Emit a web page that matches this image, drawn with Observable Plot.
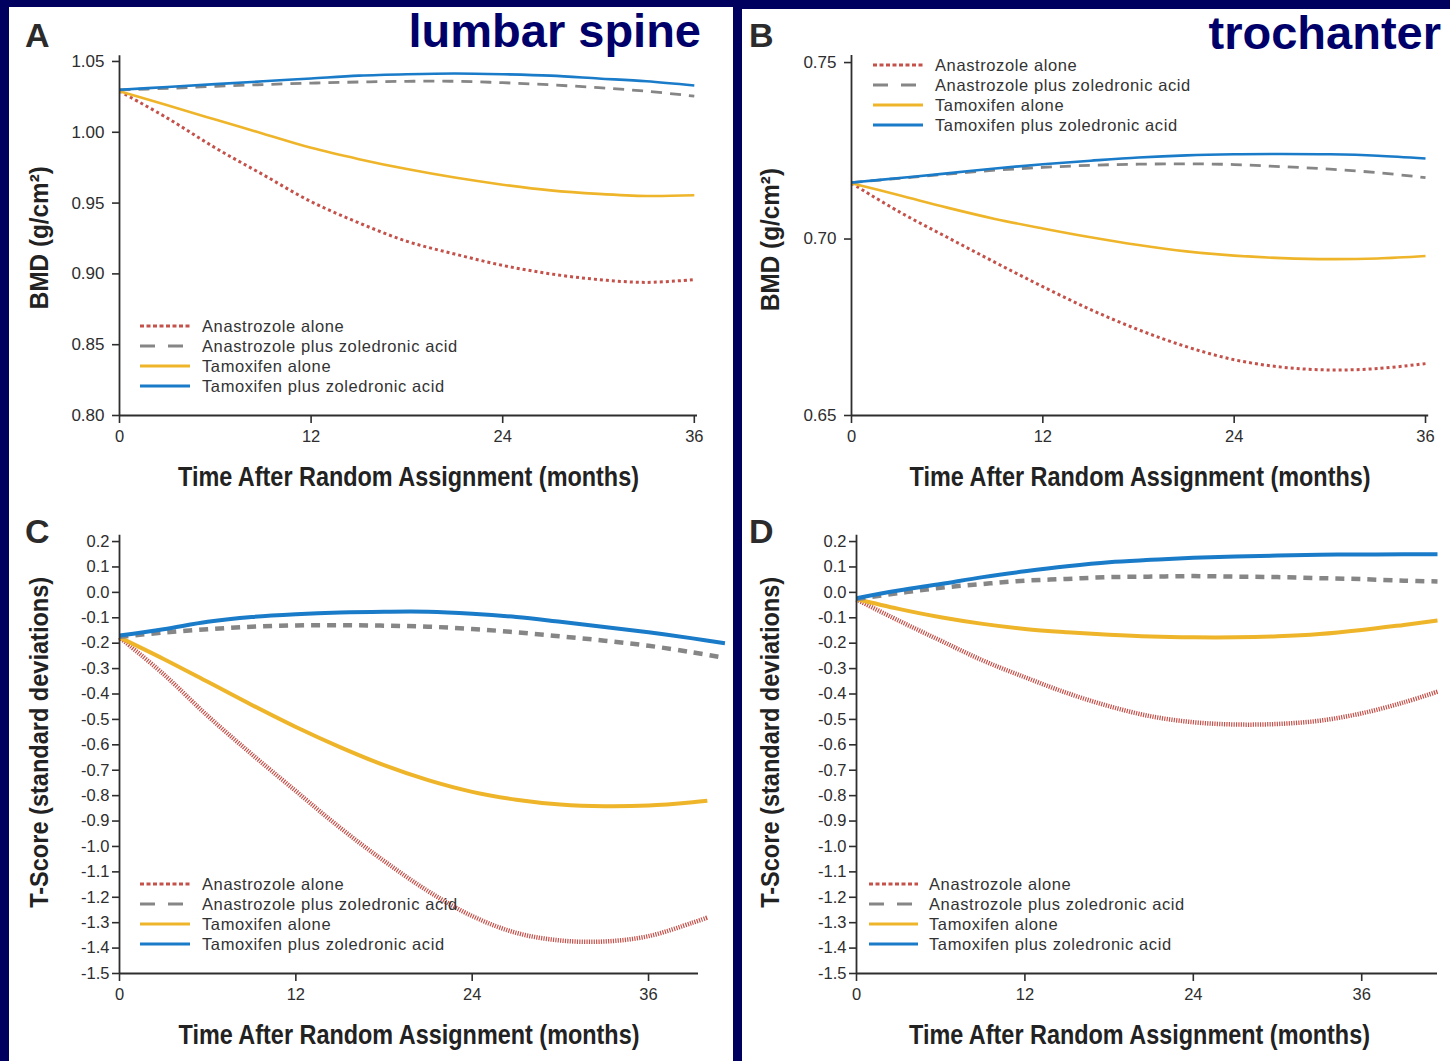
<!DOCTYPE html>
<html>
<head>
<meta charset="utf-8">
<script src="https://cdn.jsdelivr.net/npm/d3@7"></script>
<script src="https://cdn.jsdelivr.net/npm/@observablehq/plot@0.6"></script>
<style>
html, body { margin: 0; padding: 0; background: #00005e; }
#page { position: relative; width: 1450px; height: 1061px; overflow: hidden; background: #00005e; font-family: "Liberation Sans", Arial, sans-serif; }
.panel { position: absolute; background: #ffffff; }
.plot { position: absolute; }
#overlay { position: absolute; left: 0; top: 0; pointer-events: none; }
</style>
</head>
<body>
<div id="page">
  <div class="panel" style="left:9px; top:7px; width:724px; height:1054px;"></div>
  <div class="panel" style="left:742px; top:9px; width:708px; height:1052px;"></div>
</div>
<script>
// ---------------- DATA ----------------
const trtNames = ["Anastrozole alone", "Anastrozole plus zoledronic acid", "Tamoxifen alone", "Tamoxifen plus zoledronic acid"];
const trtColors = ["#c4524b", "#868686", "#efb52a", "#1a7bc9"];

const panelLetters = ["A", "B", "C", "D"];
const siteTitles = ["lumbar spine", "trochanter"];
const xTitle = "Time After Random Assignment (months)";
const yTitleBMD = "BMD (g/cm²)";
const yTitleT = "T-Score (standard deviations)";

const xTicksMonths = [0, 12, 24, 36];
const yTicksSpineBMD = [0.80, 0.85, 0.90, 0.95, 1.00, 1.05];
const yTicksTrochBMD = [0.65, 0.70, 0.75];
const yTicksTscore = [-1.5, -1.4, -1.3, -1.2, -1.1, -1.0, -0.9, -0.8, -0.7, -0.6, -0.5, -0.4, -0.3, -0.2, -0.1, 0.0, 0.1, 0.2];

// Panel A: lumbar spine BMD (g/cm2)
const monthsBMD = [0, 3, 6, 9, 12, 15, 18, 21, 24, 27, 30, 33, 36];
const spineBMD_anaAlone = [1.029, 1.010, 0.989, 0.970, 0.951, 0.936, 0.923, 0.914, 0.906, 0.900, 0.896, 0.894, 0.896];
const spineBMD_anaZol   = [1.030, 1.031, 1.0325, 1.0337, 1.0347, 1.0355, 1.036, 1.036, 1.035, 1.0335, 1.0315, 1.029, 1.0255];
const spineBMD_tamAlone = [1.029, 1.019, 1.009, 0.999, 0.989, 0.981, 0.974, 0.968, 0.963, 0.959, 0.9565, 0.955, 0.9555];
const spineBMD_tamZol   = [1.030, 1.032, 1.034, 1.036, 1.038, 1.040, 1.041, 1.0415, 1.041, 1.040, 1.038, 1.036, 1.033];

// Panel B: trochanter BMD (g/cm2)
const trochBMD_anaAlone = [0.7158, 0.7077, 0.7005, 0.6934, 0.6865, 0.6800, 0.6743, 0.6695, 0.6658, 0.6637, 0.6629, 0.6633, 0.6647];
const trochBMD_anaZol   = [0.7160, 0.7172, 0.7184, 0.7195, 0.7203, 0.7209, 0.7212, 0.7213, 0.7211, 0.7205, 0.7198, 0.7188, 0.7174];
const trochBMD_tamAlone = [0.7158, 0.7124, 0.7089, 0.7057, 0.7030, 0.7005, 0.6983, 0.6965, 0.6953, 0.6946, 0.6943, 0.6945, 0.6952];
const trochBMD_tamZol   = [0.7160, 0.7173, 0.7186, 0.7200, 0.7212, 0.7222, 0.7231, 0.7237, 0.7240, 0.7241, 0.7240, 0.7236, 0.7228];

// Panel C: lumbar spine T-score
const monthsSpineT_long  = [0, 3, 6, 9, 12, 15, 18, 21, 24, 27, 30, 33, 36, 39, 41.2];
const monthsSpineT_short = [0, 3, 6, 9, 12, 15, 18, 21, 24, 27, 30, 33, 36, 39, 40];
const spineT_anaAlone = [-0.177, -0.322, -0.486, -0.637, -0.782, -0.926, -1.057, -1.176, -1.274, -1.340, -1.370, -1.374, -1.353, -1.300, -1.280];
const spineT_anaZol   = [-0.175, -0.158, -0.145, -0.135, -0.130, -0.129, -0.131, -0.135, -0.144, -0.157, -0.173, -0.190, -0.210, -0.236, -0.258];
const spineT_tamAlone = [-0.177, -0.262, -0.352, -0.443, -0.530, -0.609, -0.680, -0.739, -0.785, -0.816, -0.835, -0.842, -0.839, -0.826, -0.820];
const spineT_tamZol   = [-0.170, -0.145, -0.116, -0.097, -0.086, -0.079, -0.076, -0.076, -0.084, -0.097, -0.116, -0.136, -0.157, -0.181, -0.200];

// Panel D: trochanter T-score
const monthsTrochT = [0, 3, 6, 9, 12, 15, 18, 21, 24, 27, 30, 33, 36, 39, 41.4];
const trochT_anaAlone = [-0.028, -0.111, -0.190, -0.268, -0.334, -0.396, -0.448, -0.488, -0.511, -0.520, -0.518, -0.505, -0.476, -0.433, -0.391];
const trochT_anaZol   = [-0.026, -0.003, 0.018, 0.033, 0.046, 0.053, 0.060, 0.062, 0.064, 0.062, 0.060, 0.056, 0.052, 0.046, 0.043];
const trochT_tamAlone = [-0.026, -0.065, -0.098, -0.124, -0.144, -0.157, -0.167, -0.174, -0.177, -0.177, -0.173, -0.164, -0.148, -0.128, -0.111];
const trochT_tamZol   = [-0.023, 0.007, 0.033, 0.060, 0.083, 0.103, 0.119, 0.128, 0.136, 0.141, 0.145, 0.148, 0.149, 0.150, 0.150];

// ---------------- STYLES ----------------
const thinStyle = { widths: [3, 2.8, 2.6, 2.6], dashes: ["3,3", "11,8", null, null] };
const thickStyle = { widths: [4.5, 4.5, 4, 4], dashes: ["1.2,1.2", "9,7", null, null] };

const FONT = "'Liberation Sans', Arial, Helvetica, sans-serif";

const panels = [
  {
    left: 9, top: 8, width: 722, height: 500,
    marginLeft: 110, marginRight: 34, marginTop: 47.3, marginBottom: 93,
    xDomain: [0, 36.2], yDomain: [0.80, 1.054], yTicks: yTicksSpineBMD, yFmt: d => d.toFixed(2),
    yTickSize: 7, yTickPad: 8, tickFont: 17,
    series: [
      { months: monthsBMD, values: spineBMD_anaAlone },
      { months: monthsBMD, values: spineBMD_anaZol },
      { months: monthsBMD, values: spineBMD_tamAlone },
      { months: monthsBMD, values: spineBMD_tamZol }
    ],
    style: thinStyle,
    yTitle: yTitleBMD, yTitleLen: 143, yTitleDx: -80, yTitleDy: 2,
    xTitleDx: 0, xTitleDy: 62
  },
  {
    left: 742, top: 8, width: 708, height: 500,
    marginLeft: 109, marginRight: 21.8, marginTop: 47, marginBottom: 93,
    xDomain: [0, 36.2], yDomain: [0.65, 0.752], yTicks: yTicksTrochBMD, yFmt: d => d.toFixed(2),
    yTickSize: 7, yTickPad: 8, tickFont: 17,
    series: [
      { months: monthsBMD, values: trochBMD_anaAlone },
      { months: monthsBMD, values: trochBMD_anaZol },
      { months: monthsBMD, values: trochBMD_tamAlone },
      { months: monthsBMD, values: trochBMD_tamZol }
    ],
    style: thinStyle,
    yTitle: yTitleBMD, yTitleLen: 143, yTitleDx: -81, yTitleDy: 4,
    xTitleDx: 0, xTitleDy: 62
  },
  {
    left: 9, top: 508, width: 722, height: 553,
    marginLeft: 110, marginRight: 33, marginTop: 26.7, marginBottom: 88,
    xDomain: [0, 39.4], yDomain: [-1.5, 0.225], yTicks: yTicksTscore, yFmt: d => (Math.abs(d) < 1e-9 ? 0 : d).toFixed(1),
    yTickSize: 7, yTickPad: 3, tickFont: 16.5,
    series: [
      { months: monthsSpineT_short, values: spineT_anaAlone },
      { months: monthsSpineT_long, values: spineT_anaZol },
      { months: monthsSpineT_short, values: spineT_tamAlone },
      { months: monthsSpineT_long, values: spineT_tamZol }
    ],
    style: thickStyle,
    yTitle: yTitleT, yTitleLen: 331, yTitleDx: -80, yTitleDy: -12,
    xTitleDx: 0, xTitleDy: 62
  },
  {
    left: 742, top: 508, width: 708, height: 553,
    marginLeft: 114, marginRight: 13, marginTop: 26.7, marginBottom: 88,
    xDomain: [0, 41.4], yDomain: [-1.5, 0.225], yTicks: yTicksTscore, yFmt: d => (Math.abs(d) < 1e-9 ? 0 : d).toFixed(1),
    yTickSize: 7, yTickPad: 3, tickFont: 16.5,
    series: [
      { months: monthsTrochT, values: trochT_anaAlone },
      { months: monthsTrochT, values: trochT_anaZol },
      { months: monthsTrochT, values: trochT_tamAlone },
      { months: monthsTrochT, values: trochT_tamZol }
    ],
    style: thickStyle,
    yTitle: yTitleT, yTitleLen: 331, yTitleDx: -86, yTitleDy: -12,
    xTitleDx: -7.5, xTitleDy: 62
  }
];

const drawOrder = [0, 2, 1, 3];
const page = document.getElementById("page");

panels.forEach((p, pi) => {
  const lineMarks = drawOrder.map(k => {
    const s = p.series[k];
    const rows = s.values.map((v, i) => ({ t: s.months[i], v, trt: trtNames[k] }));
    return Plot.line(rows, {
      x: "t", y: "v",
      stroke: trtColors[k],
      strokeWidth: p.style.widths[k],
      strokeDasharray: p.style.dashes[k] || undefined,
      strokeLinecap: "butt",
      curve: "catmull-rom"
    });
  });

  const svg = Plot.plot({
    width: p.width,
    height: p.height,
    marginLeft: p.marginLeft,
    marginRight: p.marginRight,
    marginTop: p.marginTop,
    marginBottom: p.marginBottom,
    x: { domain: p.xDomain },
    y: { domain: p.yDomain },
    style: { background: "transparent", color: "#2e2e2e", fontFamily: FONT, fontSize: p.tickFont + "px", overflow: "visible" },
    marks: [
      ...lineMarks,
      Plot.ruleY([p.yDomain[0]], { stroke: "#2e2e2e", strokeWidth: 1.8 }),
      Plot.ruleX([p.xDomain[0]], { stroke: "#2e2e2e", strokeWidth: 1.8 }),
      Plot.axisY({ ticks: p.yTicks, tickFormat: p.yFmt, tickSize: p.yTickSize, tickPadding: p.yTickPad, label: null, strokeWidth: 1.6, fontSize: p.tickFont }),
      Plot.axisX({ ticks: xTicksMonths, tickFormat: d => String(d), tickSize: 8, tickPadding: 7, label: null, strokeWidth: 1.6, fontSize: 16.5 }),
      Plot.text([xTitle], {
        text: d => d, frameAnchor: "bottom", dx: p.xTitleDx, dy: p.xTitleDy,
        lineAnchor: "middle", textAnchor: "middle",
        fontSize: 27, fontWeight: "bold", fill: "#222"
      }),
      Plot.text([p.yTitle], {
        text: d => d, frameAnchor: "left", rotate: -90, dx: p.yTitleDx, dy: p.yTitleDy,
        lineAnchor: "middle", textAnchor: "middle",
        fontSize: 26, fontWeight: "bold", fill: "#222"
      })
    ]
  });

  // condense the bold axis titles to the reference's width
  d3.select(svg).selectAll("text").each(function () {
    const t = this.textContent;
    if (t === xTitle) {
      d3.select(this).attr("textLength", 461).attr("lengthAdjust", "spacingAndGlyphs");
    } else if (t === p.yTitle) {
      d3.select(this).attr("textLength", p.yTitleLen).attr("lengthAdjust", "spacingAndGlyphs");
    }
  });

  svg.classList.add("plot");
  svg.style.left = p.left + "px";
  svg.style.top = p.top + "px";
  svg.style.position = "absolute";
  page.appendChild(svg);
});

// ---------------- OVERLAY: panel letters, site titles, legends ----------------
const overlay = d3.select(page).append("svg")
  .attr("id", "overlay").attr("width", 1450).attr("height", 1061);

const letterPos = [[25, 47], [749, 47], [25, 543], [749, 543]];
panelLetters.forEach((L, i) => {
  overlay.append("text").attr("x", letterPos[i][0]).attr("y", letterPos[i][1])
    .attr("font-family", FONT).attr("font-weight", "bold").attr("font-size", 34)
    .attr("fill", "#2b2b2b").text(L);
});

const sitePos = [[701, 47], [1441, 49]];
siteTitles.forEach((t, i) => {
  overlay.append("text").attr("x", sitePos[i][0]).attr("y", sitePos[i][1])
    .attr("text-anchor", "end")
    .attr("font-family", FONT).attr("font-weight", "bold").attr("font-size", 47)
    .attr("fill", "#00006a").text(t);
});

const legendDash = ["4,2.5", "15,13", null, null];
const legendLayouts = [
  { x0: 140, x1: 190, tx: 202, rows: [326, 346, 366, 386] },
  { x0: 873, x1: 923, tx: 935, rows: [65, 85, 105, 125] },
  { x0: 140, x1: 190, tx: 202, rows: [884, 904, 924, 944] },
  { x0: 869, x1: 918, tx: 929, rows: [884, 904, 924, 944] }
];
legendLayouts.forEach(lg => {
  trtNames.forEach((name, k) => {
    const y = lg.rows[k];
    overlay.append("line")
      .attr("x1", lg.x0).attr("x2", lg.x1).attr("y1", y).attr("y2", y)
      .attr("stroke", trtColors[k]).attr("stroke-width", 3)
      .attr("stroke-dasharray", legendDash[k]);
    overlay.append("text").attr("x", lg.tx).attr("y", y + 6)
      .attr("font-family", FONT).attr("font-size", 16.5)
      .attr("letter-spacing", 0.6)
      .attr("fill", "#333").text(name);
  });
});
</script>
</body>
</html>
